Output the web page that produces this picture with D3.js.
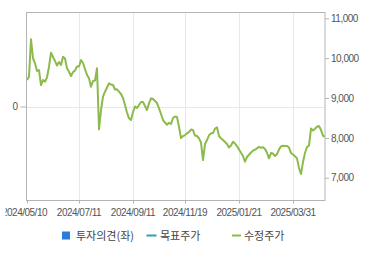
<!DOCTYPE html>
<html>
<head>
<meta charset="utf-8">
<script src="https://cdn.jsdelivr.net/npm/d3@7"></script>
<style>
body { margin: 0; background: #fff; }
svg { display: block; }
.axis text { font-family: "Liberation Sans", Arial, sans-serif; font-size: 10px; fill: #555; letter-spacing: -0.5px; }
.legend text { font-family: "Noto Sans CJK KR", sans-serif; font-size: 11px; fill: #444; }
</style>
</head>
<body>
<div id="chart"></div>
<script>
// x labels (trading-day axis, label positions as point index)
const dateLabels = ['2024/05/10', '2024/07/11', '2024/09/11', '2024/11/19', '2025/01/21', '2025/03/31'];
const labelIndex = [0, 26, 53, 79, 106, 133];

// adjusted close (수정주가)
const price = [
	9451, 9534, 10473, 9996, 9870, 9680, 9700, 9326, 9451, 9409,
	9520, 9785, 10137, 10030, 9930, 9815, 9905, 9828, 10036, 9990,
	9745, 9660, 9552, 9650, 9690, 9790, 9790, 9953, 9880, 9728,
	9577, 9494, 9283, 9425, 9440, 9745, 8214, 8698, 9032, 9158,
	9263, 9368, 9338, 9326, 9213, 9218, 9158, 9100, 9000, 8824,
	8636, 8490, 8448, 8650, 8786, 8750, 8824, 8900, 8900, 8800,
	8698, 8866, 8992, 8975, 8925, 8874, 8741, 8598, 8448, 8385,
	8330, 8380, 8347, 8497, 8535, 8522, 8279, 7995, 8046, 8071,
	8113, 8146, 8209, 8196, 8058, 8046, 7988, 7883, 7443, 7845,
	7945, 8063, 8108, 8121, 8234, 8264, 8046, 7988, 7945, 7895,
	7845, 7757, 7807, 7903, 7857, 7795, 7707, 7627, 7544, 7401,
	7520, 7577, 7632, 7677, 7707, 7737, 7775, 7750, 7762, 7720,
	7627, 7486, 7619, 7606, 7544, 7594, 7707, 7787, 7803, 7795,
	7795, 7757, 7619, 7581, 7539, 7486, 7243, 7092, 7393, 7619,
	7770, 7807, 8234, 8184, 8229, 8279, 8297, 8196, 8053, 8028
];

const priceTicks = [7000, 8000, 9000, 10000, 11000];
const opinionTicks = [0];

const legendNames = ['투자의견(좌)', '목표주가', '수정주가'];
const legendColors = ['#2b7bd9', '#27a4b6', '#8cba4c'];

const width = 370, height = 255;
const plot = { left: 26.5, top: 12.5, right: 325, bottom: 200.5 };

const svg = d3.select('#chart')
	.append('svg')
	.attr('width', width)
	.attr('height', height);

// the first date label is cut at the left edge in the original
svg.append('clipPath')
	.attr('id', 'label-clip')
	.append('rect')
	.attr('x', 5.5)
	.attr('y', 0)
	.attr('width', width)
	.attr('height', height);

const x = d3.scaleLinear()
	.domain([0, price.length - 1])
	.range([plot.left + 0.5, plot.right]);

const yR = d3.scaleLinear()
	.domain([6428, 11146])
	.range([plot.bottom, plot.top]);

const yL = d3.scaleLinear()
	.domain([-1, 1])
	.range([plot.bottom, plot.top]);

// grid
const grid = svg.append('g')
	.attr('stroke', '#e8e8e8')
	.attr('stroke-width', 1);

grid.selectAll('.vgrid')
	.data(labelIndex.slice(1))
	.enter()
	.append('line')
	.attr('x1', d => Math.round(x(d)) + 0.5)
	.attr('x2', d => Math.round(x(d)) + 0.5)
	.attr('y1', plot.top)
	.attr('y2', plot.bottom);

grid.selectAll('.hgrid')
	.data(opinionTicks)
	.enter()
	.append('line')
	.attr('x1', plot.left)
	.attr('x2', plot.right)
	.attr('y1', d => Math.round(yL(d)) + 0.5)
	.attr('y2', d => Math.round(yL(d)) + 0.5);

// price line
const line = d3.line()
	.x((d, i) => x(i))
	.y(d => yR(d));

svg.append('path')
	.datum(price)
	.attr('d', line)
	.attr('fill', 'none')
	.attr('stroke', legendColors[2])
	.attr('stroke-width', 2)
	.attr('stroke-linejoin', 'round');

// frame
svg.append('rect')
	.attr('x', plot.left)
	.attr('y', plot.top)
	.attr('width', plot.right - plot.left)
	.attr('height', plot.bottom - plot.top)
	.attr('fill', 'none')
	.attr('stroke', '#b4b4b4');

// axes
svg.append('g')
	.attr('class', 'axis')
	.attr('transform', `translate(${plot.right},0)`)
	.call(d3.axisRight(yR).tickValues(priceTicks).tickSize(4).tickPadding(2).tickFormat(d3.format(',')));

svg.append('g')
	.attr('class', 'axis')
	.attr('transform', `translate(${plot.left},0)`)
	.call(d3.axisLeft(yL).tickValues(opinionTicks).tickSize(6).tickPadding(3).tickFormat(d3.format('d')));

const axisBottom = svg.append('g')
	.attr('class', 'axis')
	.attr('clip-path', 'url(#label-clip)')
	.attr('transform', `translate(0,${plot.bottom})`)
	.call(d3.axisBottom(x).tickValues(labelIndex).tickSize(3).tickPadding(5).tickFormat((d, i) => dateLabels[i]));

axisBottom.selectAll('.tick text')
	.attr('dx', (d, i) => i === 0 ? -3 : -0.5);

svg.selectAll('.axis .domain').remove();
svg.selectAll('.axis .tick line').attr('stroke', '#b4b4b4');

// legend
const legend = svg.append('g').attr('class', 'legend');

legend.append('rect')
	.attr('x', 62)
	.attr('y', 231.5)
	.attr('width', 8)
	.attr('height', 8)
	.attr('fill', legendColors[0]);

legend.append('line')
	.attr('x1', 146.5).attr('x2', 156.5)
	.attr('y1', 235.5).attr('y2', 235.5)
	.attr('stroke', legendColors[1])
	.attr('stroke-width', 2);

legend.append('line')
	.attr('x1', 232).attr('x2', 241)
	.attr('y1', 235.5).attr('y2', 235.5)
	.attr('stroke', legendColors[2])
	.attr('stroke-width', 2);

const legendX = [76, 160, 244];

legend.selectAll('text')
	.data(legendNames)
	.enter()
	.append('text')
	.attr('x', (d, i) => legendX[i])
	.attr('y', 239.5)
	.text(d => d);
</script>
</body>
</html>
